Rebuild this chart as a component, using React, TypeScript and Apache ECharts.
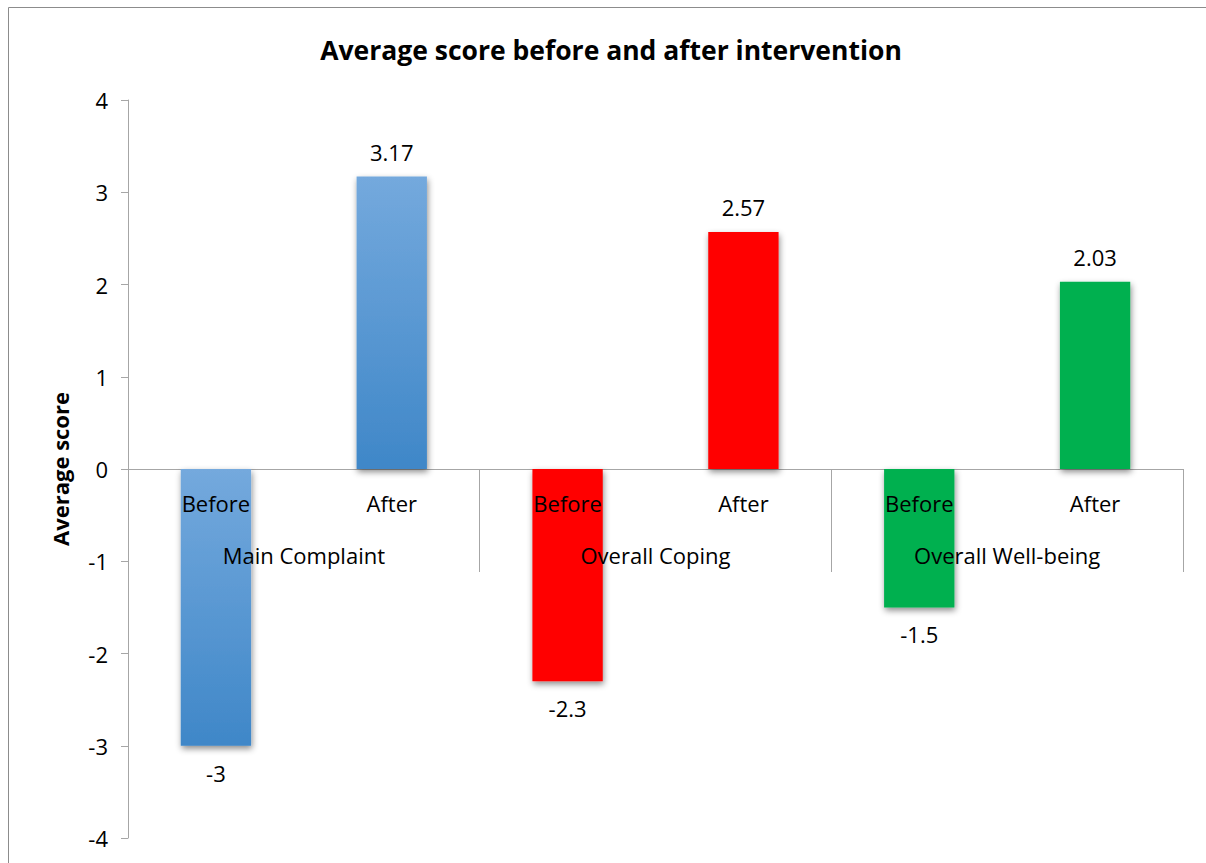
import React, { useEffect, useRef } from "react";
import * as echarts from "echarts";

const titleText = "Average score before and after intervention";
const yAxisName = "Average score";
const categories = ["Before", "After", "Before", "After", "Before", "After"];
const groups = ["Main Complaint", "Overall Coping", "Overall Well-being"];
const values = [-3, 3.17, -2.3, 2.57, -1.5, 2.03];
const valueLabels = ["-3", "3.17", "-2.3", "2.57", "-1.5", "2.03"];
const yMin = -4;
const yMax = 4;
const yInterval = 1;

const FONT = "'Open Sans', 'Noto Sans', sans-serif";

const blue = new echarts.graphic.LinearGradient(0, 0, 0, 1, [
  { offset: 0, color: "#74a9dd" },
  { offset: 1, color: "#3f87c8" },
]);
const colors = [blue, blue, "#ff0000", "#ff0000", "#00b050", "#00b050"];

export default function App() {
  const ref = useRef<HTMLDivElement>(null);
  useEffect(() => {
    if (!ref.current) return;
    const chart = echarts.init(ref.current, undefined, { renderer: "svg" });
    const plotTop = 100;
    const plotBottomGap = 25;
    const plotHeight = 863 - plotTop - plotBottomGap;
    const zeroY = plotTop + (plotHeight * (yMax - 0)) / (yMax - yMin);
    chart.setOption({
      animation: false,
      backgroundColor: "#ffffff",
      title: {
        text: titleText,
        left: 606,
        top: 31,
        textAlign: "center",
        textStyle: { fontFamily: FONT, fontWeight: "bold", fontSize: 26.5, color: "#000" },
      },
      graphic: [
        {
          type: "rect",
          shape: { x: 8.5, y: 7.5, width: 1300, height: 1000 },
          style: { fill: "none", stroke: "#8c8c8c", lineWidth: 1 },
          silent: true,
        },
      ],
      grid: [
        { left: 128, right: 23, top: plotTop, bottom: plotBottomGap, containLabel: false, outerBoundsMode: "none" },
        { left: 128, right: 23, top: zeroY, height: 103, containLabel: false, outerBoundsMode: "none" },
      ],
      xAxis: [
        {
          type: "category",
          gridIndex: 0,
          data: categories,
          z: 1,
          axisLine: { onZero: true, lineStyle: { color: "#a6a6a6", width: 1 } },
          axisTick: { show: false },
          axisLabel: { show: false },
          splitLine: { show: false },
        },
        {
          type: "category",
          gridIndex: 1,
          data: categories,
          position: "top",
          z: 10,
          axisLine: { show: false },
          axisTick: { show: false },
          axisLabel: { inside: true, margin: 23, fontFamily: FONT, fontSize: 22, color: "#000", interval: 0 },
          splitLine: { show: false },
        },
        {
          type: "category",
          gridIndex: 1,
          data: groups,
          position: "top",
          z: 10,
          axisLine: { show: false },
          axisTick: { show: true, inside: true, length: 103, interval: 0, lineStyle: { color: "#a6a6a6", width: 1 } },
          axisLabel: { inside: true, margin: 75, fontFamily: FONT, fontSize: 22, color: "#000", interval: 0 },
          splitLine: { show: false },
        },
      ],
      yAxis: [
        {
          type: "value",
          gridIndex: 0,
          min: yMin,
          max: yMax,
          interval: yInterval,
          name: yAxisName,
          nameLocation: "middle",
          nameGap: 57,
          nameTextStyle: { fontFamily: FONT, fontWeight: "bold", fontSize: 22, color: "#000" },
          axisLine: { show: true, lineStyle: { color: "#a6a6a6", width: 1 } },
          axisTick: { show: true, length: 7, lineStyle: { color: "#a6a6a6" } },
          axisLabel: { margin: 20, fontFamily: FONT, fontSize: 22, color: "#000" },
          splitLine: { show: false },
        },
        {
          type: "value",
          gridIndex: 1,
          show: false,
          min: 0,
          max: 1,
          splitLine: { show: false },
        },
      ],
      series: [
        {
          type: "bar",
          xAxisIndex: 0,
          yAxisIndex: 0,
          barWidth: "40%",
          z: 3,
          data: values.map((v, i) => ({
            value: v,
            itemStyle: {
              color: colors[i],
              shadowColor: "rgba(0,0,0,0.45)",
              shadowBlur: 6,
              shadowOffsetX: 1,
              shadowOffsetY: 3,
            },
            label: {
              show: true,
              position: v >= 0 ? "top" : "bottom",
              distance: v >= 0 ? 14 : 16,
              formatter: valueLabels[i],
              fontFamily: FONT,
              fontSize: 22,
              color: "#000",
            },
          })),
        },
      ],
    });
    return () => chart.dispose();
  }, []);
  return (
    <div
      ref={ref}
      style={{ position: "absolute", left: 0, top: 0, width: 1206, height: 863 }}
    />
  );
}
